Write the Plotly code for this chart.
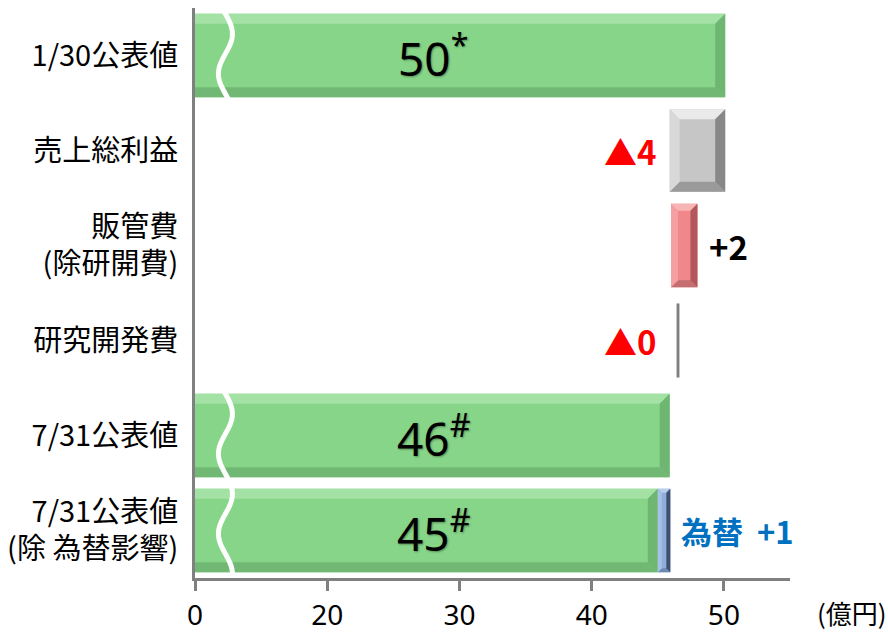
import numpy as np
import plotly.graph_objects as go

# ---------------- data ----------------
categories = ["1/30公表値", "売上総利益", "販管費<br>(除研開費)", "研究開発費",
              "7/31公表値", "7/31公表値<br>(除 為替影響)"]

total_cats = ["1/30公表値", "7/31公表値", "7/31公表値<br>(除 為替影響)"]
total_values = [50.1, 45.9, 45.0]
total_labels = ["50<sup>*</sup>", "46<sup>#</sup>", "45<sup>#</sup>"]

step_cats = ["売上総利益", "販管費<br>(除研開費)", "研究開発費"]
step_base = [45.9, 46.0, 46.42]
step_delta = [4.2, 2.0, 0.22]
step_labels = ["▲4", "+2", "▲0"]

fx_cat = "7/31公表値<br>(除 為替影響)"
fx_base = 45.0
fx_delta = 0.95
fx_label = "為替\u00a0\u00a0+1"

x_tickvals = [10, 20, 30, 40, 50]
x_ticktext = ["0", "20", "30", "40", "50"]
x_range = [10, 55]
unit_label = "(億円)"

# ---------------- style ----------------
W, H = 888, 632
ML, MR, MT, MB = 195, 98, 8, 54
px_x = (x_range[1] - x_range[0]) / (W - ML - MR)
px_y = len(categories) / (H - MT - MB)
idx = {c: i for i, c in enumerate(categories)}

GREEN = dict(main="#87D589", top="#A3E2A4", bottom="#72B875", left="#95DB96", right="#70B673")
GRAY = dict(main="#C6C6C6", top="#EAEAEA", bottom="#9A9A9A", left="#D8D8D8", right="#888888")
RED = dict(main="#F0878A", top="#F8B4B5", bottom="#C56E71", left="#F4A0A2", right="#B2585B")
BLUE = dict(main="#8EADDB", top="#B7CDEC", bottom="#6C88B5", left="#A7C0E6", right="#3F506F")
RD = dict(main="#808080")

fig = go.Figure()

fig.add_trace(go.Bar(y=total_cats, x=total_values, base=0, orientation="h",
                     width=0.88, marker=dict(color=GREEN["main"], line=dict(width=0)),
                     hoverinfo="skip", showlegend=False))
step_colors = [GRAY["main"], RED["main"], RD["main"]]
step_widths = [0.87, 0.88, 0.78]
fig.add_trace(go.Bar(y=step_cats, x=step_delta, base=step_base, orientation="h",
                     width=step_widths, marker=dict(color=step_colors, line=dict(width=0)),
                     hoverinfo="skip", showlegend=False))
fig.add_trace(go.Bar(y=[fx_cat], x=[fx_delta], base=[fx_base], orientation="h",
                     width=0.88, marker=dict(color=BLUE["main"], line=dict(width=0)),
                     hoverinfo="skip", showlegend=False))

shapes = []


def poly(pts, color):
    d = "M " + " L ".join(f"{x:.4f},{y:.4f}" for x, y in pts) + " Z"
    shapes.append(dict(type="path", xref="x", yref="y", path=d,
                       fillcolor=color, line=dict(width=0), layer="above"))


def bevel(x0, x1, yi, width, pal, b):
    hh = width / 2
    bx, by = b * px_x, b * px_y
    t, btm = yi - hh, yi + hh
    poly([(x0, t), (x1, t), (x1 - bx, t + by), (x0 + bx, t + by)], pal["top"])
    poly([(x0, btm), (x1, btm), (x1 - bx, btm - by), (x0 + bx, btm - by)], pal["bottom"])
    poly([(x0, t), (x0 + bx, t + by), (x0 + bx, btm - by), (x0, btm)], pal["left"])
    poly([(x1, t), (x1 - bx, t + by), (x1 - bx, btm - by), (x1, btm)], pal["right"])


for c, v in zip(total_cats, total_values):
    bevel(0, v, idx[c], 0.88, GREEN, 10)
bevel(step_base[0], step_base[0] + step_delta[0], idx[step_cats[0]], 0.87, GRAY, 10)
bevel(step_base[1], step_base[1] + step_delta[1], idx[step_cats[1]], 0.88, RED, 7)
bevel(fx_base, fx_base + fx_delta, idx[fx_cat], 0.88, BLUE, 4)


# wavy axis-break lines (white)
def wave(y_start, y_end):
    ys = np.linspace(y_start, y_end, 120)
    pix = (ys - y_start) / px_y
    xs = 12.3 + 7 * px_x * np.sin(2 * np.pi * (pix - 3) / 80)
    d = "M " + " L ".join(f"{x:.4f},{y:.4f}" for x, y in zip(xs, ys))
    shapes.append(dict(type="path", xref="x", yref="y", path=d,
                       line=dict(color="white", width=5), layer="above"))


wave(idx[total_cats[0]] - 0.47, idx[total_cats[0]] + 0.46)
wave(idx[total_cats[1]] - 0.47, idx[total_cats[2]] + 0.5)

annotations = []
for c, lab in zip(total_cats, total_labels):
    annotations.append(dict(x=28, y=idx[c], xref="x", yref="y", text=lab, showarrow=False,
                            xanchor="center", yanchor="middle",
                            font=dict(family="Noto Sans", size=46, color="black",
                                      shadow="1px 1px 2px rgba(0,0,0,0.35)")))

lab_font = dict(family="Noto Sans CJK JP", size=33, color="#FF0000", weight="bold")
annotations.append(dict(x=step_base[0], y=idx[step_cats[0]], xref="x", yref="y",
                        text=step_labels[0], showarrow=False, xanchor="right", xshift=-12,
                        font=lab_font))
annotations.append(dict(x=step_base[1] + step_delta[1], y=idx[step_cats[1]], xref="x", yref="y",
                        text=step_labels[1], showarrow=False, xanchor="left", xshift=10,
                        font=dict(lab_font, color="black")))
annotations.append(dict(x=step_base[2], y=idx[step_cats[2]], xref="x", yref="y",
                        text=step_labels[2], showarrow=False, xanchor="right", xshift=-19,
                        font=lab_font))
annotations.append(dict(x=fx_base + fx_delta, y=idx[fx_cat], xref="x", yref="y",
                        text=fx_label, showarrow=False, xanchor="left", xshift=9,
                        font=dict(family="Noto Sans CJK JP", size=31, color="#0070C0", weight="bold")))
annotations.append(dict(x=1.105, y=-0.06, xref="paper", yref="paper", text=unit_label,
                        showarrow=False, xanchor="center", yanchor="middle",
                        font=dict(family="Noto Sans CJK JP", size=26, color="black")))

fig.update_layout(
    width=W, height=H,
    margin=dict(l=ML, r=MR, t=MT, b=MB, pad=0),
    paper_bgcolor="white", plot_bgcolor="white",
    barmode="overlay", bargap=0.12,
    shapes=shapes, annotations=annotations,
    xaxis=dict(range=x_range, tickvals=x_tickvals, ticktext=x_ticktext, automargin=False,
               showgrid=False, zeroline=False, showline=True, linecolor="#808080", linewidth=3,
               ticks="outside", ticklen=10, tickwidth=3, tickcolor="#808080",
               tickfont=dict(family="Noto Sans", size=28, color="black")),
    yaxis=dict(type="category", categoryorder="array", categoryarray=categories,
               range=[len(categories) - 0.5, -0.5], automargin=False,
               showgrid=False, zeroline=False, showline=True, linecolor="#808080", linewidth=3,
               ticks="outside", ticklen=8, tickcolor="rgba(0,0,0,0)",
               tickfont=dict(family="Noto Sans CJK JP", size=29, color="black")),
    font=dict(family="Noto Sans CJK JP"),
)

fig.write_html("out.html")
